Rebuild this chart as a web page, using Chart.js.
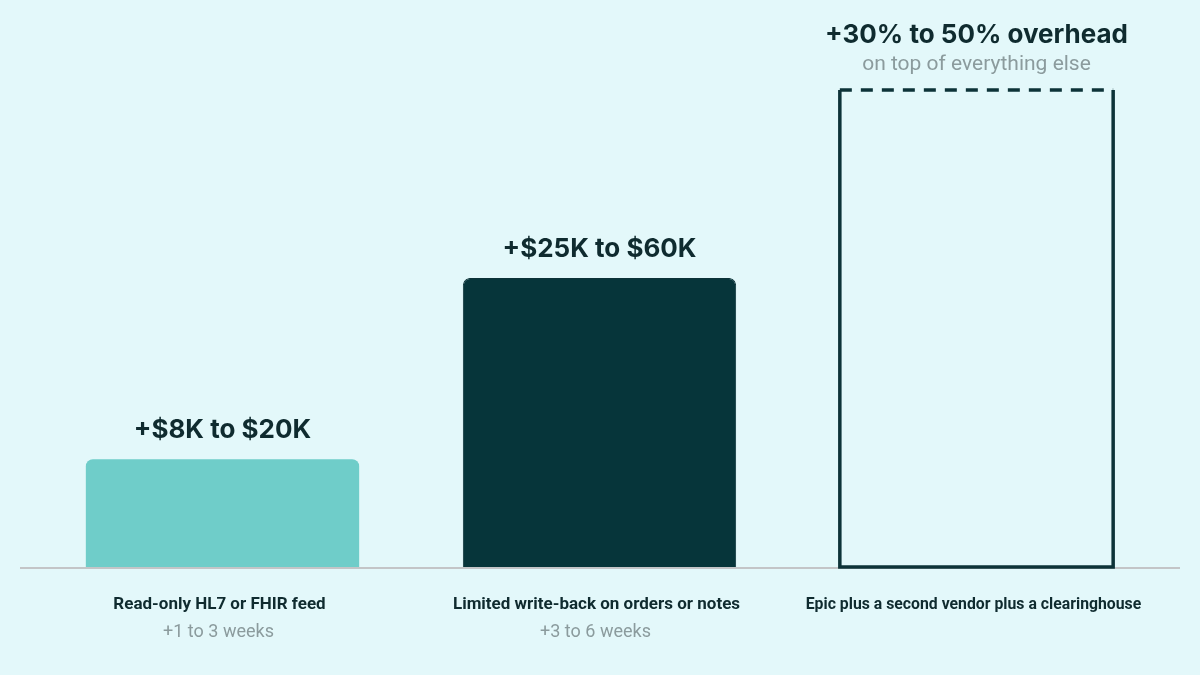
<!DOCTYPE html>
<html><head><meta charset="utf-8">
<script src="https://cdn.jsdelivr.net/npm/chart.js@4/dist/chart.umd.min.js"></script>
<style>
html,body{margin:0;padding:0;background:#e3f8fa;}
#wrap{width:1200px;height:675px;position:relative;}
</style></head>
<body><div id="wrap"><canvas id="c" width="1200" height="675"></canvas></div>
<script>
// Data
const categories = ["Read-only HL7 or FHIR feed", "Limited write-back on orders or notes", "Epic plus a second vendor plus a clearinghouse"];
const subLabels = ["+1 to 3 weeks", "+3 to 6 weeks", ""];
const relativeCost = [22.6, 60.6, 100];
const valueLabels = ["+$8K to $20K", "+$25K to $60K", "+30% to 50% overhead"];
const valueSubLabels = ["", "", "on top of everything else"];

const BG = '#e3f8fa', DARK = '#0f2b2f', GRAY = '#8b9b9d';

const annot = {
  id: 'annot',
  afterDatasetsDraw(chart) {
    const ctx = chart.ctx;
    const meta = chart.getDatasetMeta(0);
    const area = chart.chartArea;
    const catW = (area.right - area.left) / categories.length;
    ctx.save();
    // baseline
    ctx.strokeStyle = '#c3c5c7';
    ctx.lineWidth = 2;
    ctx.beginPath();
    ctx.moveTo(20, area.bottom + 1);
    ctx.lineTo(1180, area.bottom + 1);
    ctx.stroke();
    meta.data.forEach((bar, i) => {
      const left = bar.x - bar.width / 2, right = bar.x + bar.width / 2;
      if (i === 2) {
        ctx.strokeStyle = '#0d3338';
        ctx.lineWidth = 3.5;
        ctx.setLineDash([]);
        ctx.beginPath();
        ctx.moveTo(left, bar.y);
        ctx.lineTo(left, bar.base);
        ctx.lineTo(right, bar.base);
        ctx.lineTo(right, bar.y);
        ctx.stroke();
        ctx.setLineDash([12, 9]);
        ctx.beginPath();
        ctx.moveTo(left, bar.y);
        ctx.lineTo(right, bar.y);
        ctx.stroke();
        ctx.setLineDash([]);
      }
      ctx.textAlign = 'center';
      ctx.textBaseline = 'alphabetic';
      ctx.fillStyle = DARK;
      ctx.font = 'bold 26px Inter';
      const hasSub = valueSubLabels[i] !== '';
      ctx.fillText(valueLabels[i], bar.x, bar.y - (hasSub ? 47 : 21));
      if (hasSub) {
        ctx.fillStyle = GRAY;
        ctx.font = '21px Roboto';
        ctx.fillText(valueSubLabels[i], bar.x, bar.y - 20);
      }
      ctx.fillStyle = DARK;
      ctx.font = 'bold 17px Roboto';
      ctx.fillText(categories[i], bar.x - 3, area.bottom + 42, catW * 0.89);
      if (subLabels[i]) {
        ctx.fillStyle = GRAY;
        ctx.font = '18px Roboto';
        ctx.fillText(subLabels[i], bar.x - 4, area.bottom + 70);
      }
    });
    ctx.restore();
  }
};

new Chart(document.getElementById('c'), {
  type: 'bar',
  data: {
    labels: categories,
    datasets: [{
      data: relativeCost,
      backgroundColor: ['#6fcdc9', '#06353a', 'rgba(0,0,0,0)'],
      borderColor: ['#6fcdc9', '#0d3338', 'rgba(0,0,0,0)'],
      borderWidth: [0, 1, 0],
      borderRadius: [{topLeft: 7, topRight: 7}, {topLeft: 7, topRight: 7}, 0],
      borderSkipped: 'bottom',
      barPercentage: 0.725,
      categoryPercentage: 1
    }]
  },
  options: {
    responsive: false,
    animation: false,
    devicePixelRatio: 1,
    layout: { padding: { top: 90, bottom: 108, left: 34, right: 35 } },
    plugins: { legend: { display: false }, tooltip: { enabled: false } },
    scales: {
      x: { display: false },
      y: { display: false, min: 0, max: 100 }
    }
  },
  plugins: [annot]
});
</script>
</body></html>
